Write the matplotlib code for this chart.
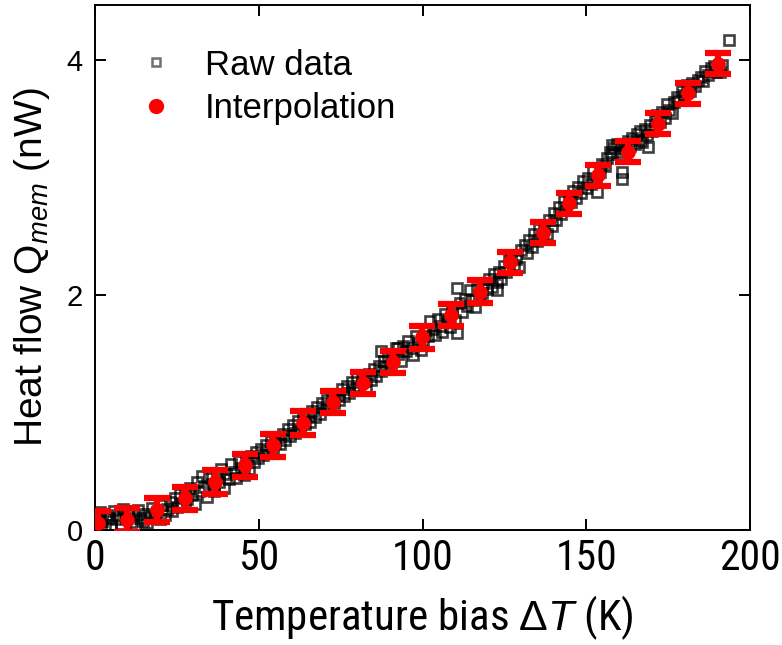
import matplotlib
matplotlib.use("Agg")
import matplotlib.pyplot as plt
from matplotlib.lines import Line2D
from matplotlib import font_manager

# ---------------- data ----------------
raw_T = [0.3, 0.8, 1.5, 2.2, 3.0, 3.6, 4.3, 5.0, 5.8, 6.5, 7.2, 8.0, 8.7,
         9.4, 10.1, 10.9, 11.6, 12.3, 13.1, 13.8, 14.6, 15.3, 16.0, 16.8, 17.5, 18.3,
         19.0, 19.8, 20.6, 21.3, 22.1, 22.8, 23.6, 24.4, 25.1, 25.9, 26.6, 27.4,
         28.1, 28.9, 29.6, 30.4, 31.1, 31.9, 32.6, 33.4, 34.1, 34.9, 35.6, 36.4,
         37.1, 37.9, 38.6, 39.4, 40.1, 40.9, 41.6, 42.4, 43.1, 43.9, 44.6, 45.4,
         46.1, 46.9, 47.6, 48.4, 49.1, 49.9, 50.6, 51.4, 52.1, 52.9, 53.6, 54.4,
         55.1, 55.9, 56.6, 57.4, 58.1, 58.9, 59.6, 60.4, 61.1, 61.9, 62.6, 63.4,
         64.1, 64.9, 65.6, 66.4, 67.1, 67.9, 68.6, 69.4, 70.1, 70.9, 71.6, 72.4,
         73.1, 73.9, 74.6, 75.4, 76.1, 76.9, 77.6, 78.4, 79.1, 79.9, 80.6, 81.4,
         82.1, 82.9, 83.6, 84.4, 85.1, 85.9, 86.6, 87.4, 87.4, 88.1, 88.9, 89.6, 90.4,
         91.1, 91.9, 92.5, 92.6, 93.4, 94.1, 94.9, 95.6, 96.4, 97.1, 97.9, 98.6, 99.4,
         100.1, 100.9, 101.6, 102.4, 103.1, 103.9, 104.6, 105.4, 106.1, 106.9, 107.6, 108.4,
         109.1, 109.9, 110.5, 110.5, 111.4, 112.1, 112.9, 113.6, 114.4, 115.1, 115.9, 116.6, 117.4,
         118.1, 118.9, 119.6, 120.4, 121.1, 121.9, 122.7, 122.7, 123.4, 124.1, 124.9, 125.6, 126.4,
         127.1, 127.9, 128.6, 129.4, 130.1, 131.3, 131.9, 132.6, 133.4, 134.1, 134.9, 135.6, 136.4,
         137.1, 137.9, 138.6, 139.4, 140.1, 140.9, 141.6, 142.4, 143.1, 143.9, 144.6,
         145.4, 146.1, 146.9, 147.6, 148.4, 149.1, 149.9, 150.6, 151.4, 152.1, 152.9, 153.4,
         154.1, 154.9, 155.7, 156.4, 157.1, 157.9, 157.9, 158.6, 159.4, 160.3, 160.3, 161.0, 161.0, 161.9, 162.6,
         163.4, 164.1, 164.9, 165.6, 166.4, 166.4, 167.1, 167.9, 168.6, 169.0, 169.4, 170.1, 170.9, 171.6,
         172.4, 173.1, 173.9, 174.7, 175.4, 176.1, 176.9, 177.6, 178.4, 179.1, 179.9, 180.8,
         181.6, 182.4, 183.1, 184.0, 184.9, 185.6, 186.4, 187.2, 188.1, 188.9, 189.6, 190.8, 191.4,
         193.6]
raw_Q = [0.12, 0.05, 0.15, 0.08, 0.02, 0.13, 0.10, 0.04, 0.16, 0.09, 0.12, 0.05, 0.18,
         0.10, 0.15, 0.07, 0.13, 0.04, 0.17, 0.10, 0.08, 0.14, 0.06, 0.12, 0.19, 0.10,
         0.15, 0.09, 0.21, 0.13, 0.18, 0.24, 0.16, 0.27, 0.20, 0.31, 0.23, 0.34,
         0.26, 0.36, 0.30, 0.22, 0.41, 0.33, 0.46, 0.37, 0.28, 0.44, 0.39, 0.33,
         0.47, 0.41, 0.52, 0.36, 0.48, 0.43, 0.56, 0.49, 0.44, 0.59, 0.53, 0.47,
         0.58, 0.52, 0.63, 0.58, 0.66, 0.61, 0.69, 0.64, 0.72, 0.67, 0.76, 0.70,
         0.74, 0.79, 0.73, 0.82, 0.77, 0.86, 0.80, 0.89, 0.83, 0.93, 0.86, 0.96,
         0.90, 0.97, 0.92, 1.01, 0.96, 1.05, 0.99, 1.08, 1.03, 1.11, 1.06, 1.14,
         1.08, 1.15, 1.11, 1.20, 1.14, 1.23, 1.17, 1.26, 1.20, 1.29, 1.23, 1.31,
         1.27, 1.22, 1.33, 1.28, 1.37, 1.31, 1.40, 1.35, 1.52, 1.44, 1.39, 1.48, 1.42,
         1.46, 1.55, 1.55, 1.50, 1.44, 1.57, 1.52, 1.61, 1.55, 1.49, 1.65, 1.59, 1.53,
         1.60, 1.70, 1.65, 1.78, 1.71, 1.66, 1.80, 1.74, 1.69, 1.84, 1.78, 1.73,
         1.88, 1.79, 2.06, 1.68, 1.93, 1.86, 1.97, 1.91, 2.04, 1.96, 1.90, 2.05, 1.99,
         2.02, 2.10, 2.05, 2.14, 2.07, 2.18, 2.11, 2.04, 2.20, 2.14, 2.25, 2.20, 2.31,
         2.34, 2.26, 2.31, 2.24, 2.38, 2.43, 2.36, 2.47, 2.41, 2.52, 2.46, 2.56, 2.50,
         2.58, 2.52, 2.64, 2.59, 2.70, 2.64, 2.75, 2.69, 2.80, 2.74, 2.84,
         2.79, 2.89, 2.83, 2.92, 2.87, 2.97, 2.91, 3.00, 2.95, 3.06, 2.99, 2.88,
         3.05, 3.12, 3.10, 3.17, 3.22, 3.28, 3.20, 3.25, 3.29, 3.22, 3.28, 3.05, 2.99, 3.24, 3.31,
         3.27, 3.34, 3.29, 3.37, 3.32, 3.40, 3.30, 3.41, 3.36, 3.26, 3.45, 3.40, 3.49, 3.53,
         3.47, 3.56, 3.51, 3.63, 3.58, 3.55, 3.64, 3.69, 3.66, 3.74, 3.70, 3.79,
         3.74, 3.81, 3.78, 3.83, 3.86, 3.82, 3.91, 3.87, 3.93, 3.95, 3.90, 3.90, 3.96,
         4.17]

interp_T = [1.0, 9.8, 18.9, 27.5, 36.6, 45.8, 54.4, 63.5, 72.7, 81.8, 91.0,
            99.8, 108.7, 117.6, 126.7, 136.8, 144.7, 153.6, 162.7, 171.9, 181.1, 190.2]
interp_Q = [0.06, 0.085, 0.17, 0.27, 0.41, 0.55, 0.72, 0.91, 1.09, 1.25, 1.43,
            1.64, 1.83, 2.03, 2.28, 2.53, 2.78, 3.02, 3.22, 3.46, 3.72, 3.97]
interp_err = [0.1, 0.1, 0.1, 0.1, 0.1, 0.1, 0.1, 0.1, 0.095, 0.095, 0.095,
              0.095, 0.095, 0.095, 0.09, 0.09, 0.09, 0.09, 0.09, 0.09, 0.09, 0.09]

x_ticks = [0, 50, 100, 150, 200]
y_ticks = [0, 2, 4]

# ---------------- fonts ----------------
names = {f.name for f in font_manager.fontManager.ttflist}
narrow = next((n for n in ["Liberation Sans Narrow", "Arial Narrow", "Roboto Condensed"]
               if n in names), "Liberation Sans")
normal = "Liberation Sans" if "Liberation Sans" in names else "DejaVu Sans"
plt.rcParams["font.family"] = [normal, "DejaVu Sans"]
plt.rcParams["mathtext.fontset"] = "custom"
plt.rcParams["mathtext.rm"] = normal
plt.rcParams["mathtext.it"] = normal + ":italic"

# ---------------- figure ----------------
fig = plt.figure(figsize=(7.82, 6.45), dpi=100)
ax = fig.add_axes([95 / 782, 1 - 530 / 645, 655 / 782, 525 / 645])

ax.plot(raw_T, raw_Q, ls="none", marker="s", ms=6.5, mfc="none",
        mec=(0, 0, 0, 0.75), mew=1.9, zorder=2)
ax.errorbar(interp_T, interp_Q, yerr=interp_err, fmt="o", color="#ff0000",
            ms=9.5, ecolor="#ff0000", elinewidth=4.5, capsize=9.5, capthick=4.5,
            zorder=3)

ax.set_xlim(0, 200)
ax.set_ylim(0, 4.47)
ax.set_xticks(x_ticks)
ax.set_yticks(y_ticks)
ax.tick_params(direction="in", length=8, width=1.4, top=True, right=True)
ax.tick_params(axis="x", labelsize=30, pad=6)
ax.tick_params(axis="y", labelsize=21, pad=9)
for lab in ax.get_xticklabels():
    lab.set_fontfamily(narrow)
for sp in ax.spines.values():
    sp.set_linewidth(1.4)

ax.set_xlabel(r"Temperature bias $\Delta\mathit{T}$ (K)", fontsize=31,
              fontfamily=narrow, labelpad=10)
ax.set_ylabel(r"Heat flow Q$_{\mathit{mem}}$ (nW)", fontsize=28, labelpad=10)

handles = [
    Line2D([], [], ls="none", marker="s", ms=6, mfc="none", mec="#707070", mew=1.8),
    Line2D([], [], ls="none", marker="o", ms=10, color="#ff0000"),
]
ax.legend(handles, ["Raw data", "Interpolation"], loc="upper left",
          bbox_to_anchor=(0.04, 0.95), frameon=False, fontsize=25,
          handlelength=1.0, handletextpad=0.9, labelspacing=0.3, borderpad=0)

fig.savefig("out.png", dpi=100)
